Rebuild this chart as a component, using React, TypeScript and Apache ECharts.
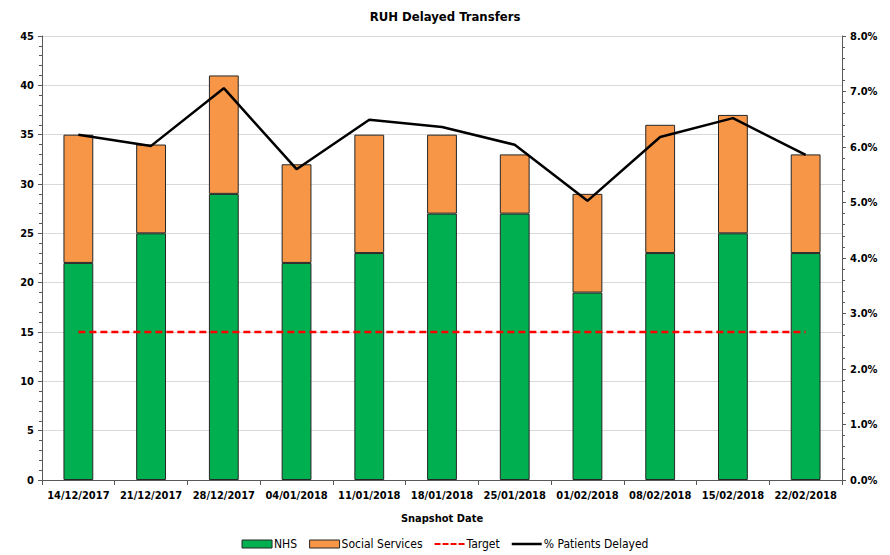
import React, { useEffect, useRef } from "react";
import * as echarts from "echarts";

const categories = [
  "14/12/2017", "21/12/2017", "28/12/2017", "04/01/2018", "11/01/2018", "18/01/2018",
  "25/01/2018", "01/02/2018", "08/02/2018", "15/02/2018", "22/02/2018",
];
const nhs = [22, 25, 29, 22, 23, 27, 27, 19, 23, 25, 23];
const socialServices = [13, 9, 12, 10, 12, 8, 6, 10, 13, 12, 10];
const target = [15, 15, 15, 15, 15, 15, 15, 15, 15, 15, 15];
const pctDelayed = [6.22, 6.02, 7.06, 5.6, 6.49, 6.36, 6.04, 5.03, 6.18, 6.52, 5.86];
const leftTicks = { min: 0, max: 45, interval: 5 };
const rightTicks = { min: 0, max: 8, interval: 1 };

const FONT = "'DejaVu Sans Condensed', 'Liberation Sans', sans-serif";

const BOX = "M0,0L0.01,0M30,8L29.99,8";
const SOLID_ICON = "path://" + BOX + "M0,2.75L30,2.75L30,5.25L0,5.25Z";
const DASH_ICON =
  "path://" +
  BOX +
  "M0,2.9L6,2.9L6,5.1L0,5.1Z" +
  "M8,2.9L14,2.9L14,5.1L8,5.1Z" +
  "M16,2.9L22,2.9L22,5.1L16,5.1Z" +
  "M24,2.9L30,2.9L30,5.1L24,5.1Z";

export default function App() {
  const ref = useRef<HTMLDivElement>(null);
  useEffect(() => {
    if (!ref.current) return;
    const chart = echarts.init(ref.current, null, { renderer: "svg" });
    const axisColor = "#595959";
    const labelStyle = { fontFamily: FONT, fontWeight: "bold", fontSize: 11, color: "#000" };
    chart.setOption({
      animation: false,
      backgroundColor: "#fff",
      textStyle: { fontFamily: FONT },
      title: {
        text: "RUH Delayed Transfers",
        left: "center",
        top: 5,
        textStyle: { fontFamily: FONT, fontWeight: "bold", fontSize: 13, color: "#000" },
      },
      grid: { left: 42, right: 48, top: 36, bottom: 75, containLabel: false },
      legend: {
        bottom: 0,
        left: "center",
        itemWidth: 30,
        itemHeight: 8,
        itemGap: 12,
        itemStyle: { borderWidth: 1, borderColor: "#262626" },
        textStyle: { fontFamily: FONT, fontSize: 12, color: "#000", padding: [0, 0, 0, -3] },
        data: [
          { name: "NHS", icon: "rect" },
          { name: "Social Services", icon: "rect" },
          { name: "Target", icon: DASH_ICON, itemStyle: { borderWidth: 0, color: "#FF0000" } },
          { name: "% Patients Delayed", icon: SOLID_ICON, itemStyle: { borderWidth: 0, color: "#000" } },
        ],
      },
      xAxis: {
        type: "category",
        data: categories,
        name: "Snapshot Date",
        nameLocation: "middle",
        nameGap: 33,
        nameTextStyle: { ...labelStyle },
        axisLine: { lineStyle: { color: axisColor, width: 1 } },
        axisTick: { show: true, alignWithLabel: false, length: 5, lineStyle: { color: axisColor } },
        axisLabel: { ...labelStyle, margin: 10, interval: 0 },
      },
      yAxis: [
        {
          type: "value",
          ...leftTicks,
          position: "left",
          axisLine: { show: true, lineStyle: { color: axisColor } },
          axisTick: { show: true, length: 4, lineStyle: { color: axisColor } },
          minorTick: { show: true, splitNumber: 5, length: 3, lineStyle: { color: axisColor } },
          splitLine: { show: true, lineStyle: { color: "#d9d9d9", width: 1 } },
          axisLabel: { ...labelStyle, margin: 8 },
        },
        {
          type: "value",
          ...rightTicks,
          position: "right",
          axisLine: { show: true, lineStyle: { color: axisColor } },
          axisTick: { show: true, length: 4, lineStyle: { color: axisColor } },
          minorTick: { show: true, splitNumber: 5, length: 3, lineStyle: { color: axisColor } },
          splitLine: { show: false },
          axisLabel: {
            ...labelStyle,
            margin: 8,
            formatter: (v: number) => v.toFixed(1) + "%",
          },
        },
      ],
      series: [
        {
          name: "NHS",
          type: "bar",
          stack: "total",
          barWidth: "41%",
          data: nhs,
          itemStyle: { color: "#00B050", borderColor: "#262626", borderWidth: 1 },
        },
        {
          name: "Social Services",
          type: "bar",
          stack: "total",
          barWidth: "41%",
          data: socialServices,
          itemStyle: { color: "#F79646", borderColor: "#262626", borderWidth: 1 },
        },
        {
          name: "Target",
          type: "line",
          data: target,
          yAxisIndex: 0,
          symbol: "none",
          z: 5,
          lineStyle: { color: "#FF0000", width: 2.5, type: [7, 4] },
          itemStyle: { color: "#FF0000" },
        },
        {
          name: "% Patients Delayed",
          type: "line",
          data: pctDelayed,
          yAxisIndex: 1,
          symbol: "none",
          z: 6,
          lineStyle: { color: "#000", width: 2.5 },
          itemStyle: { color: "#000" },
        },
      ],
    });
    return () => chart.dispose();
  }, []);
  return (
    <div
      ref={ref}
      style={{ position: "fixed", left: 0, top: 0, width: 890, height: 555 }}
    />
  );
}
